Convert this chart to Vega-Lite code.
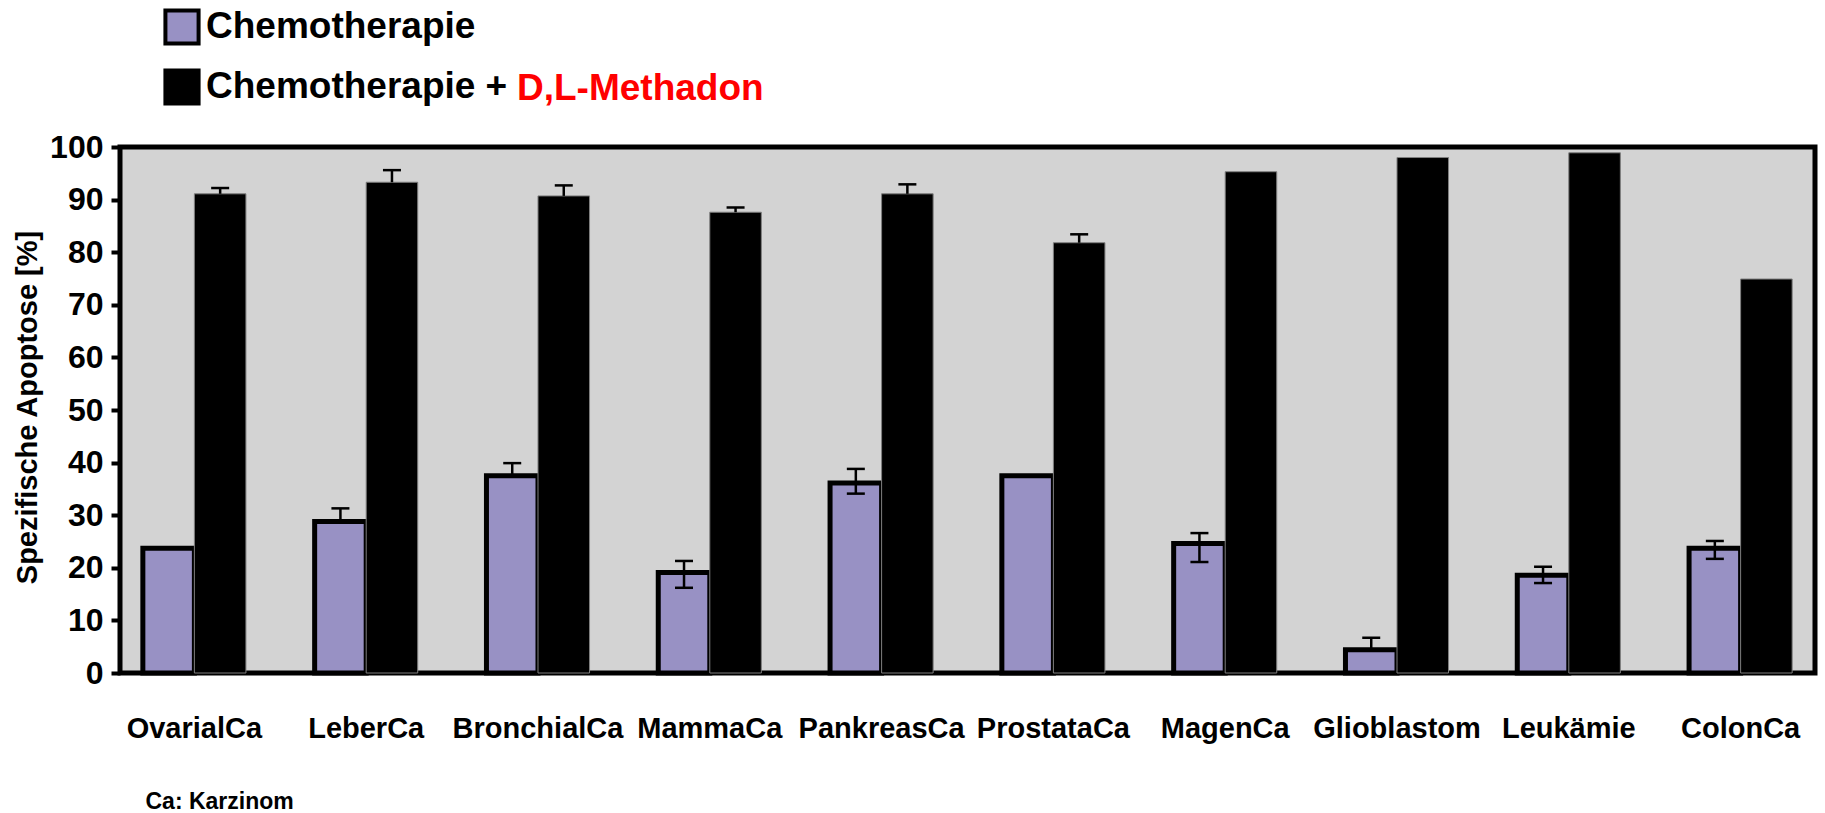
{
  "$schema": "https://vega.github.io/schema/vega-lite/v6.json",
  "width": 1695,
  "height": 526,
  "autosize": {"type": "none"},
  "padding": {"left": 120, "top": 147, "right": 10, "bottom": 140},
  "background": "white",
  "config": {
    "view": {"fill": "#d3d3d3", "stroke": "#000000", "strokeWidth": 5},
    "font": "Liberation Sans"
  },
  "data": {
    "values": [
      {"cat": "OvarialCa", "grp": "Chemotherapie", "v": 23.7, "lo": 23.7, "hi": 23.7},
      {"cat": "OvarialCa", "grp": "Chemotherapie + D,L-Methadon", "v": 91.1, "lo": 91.1, "hi": 92.2},
      {"cat": "LeberCa", "grp": "Chemotherapie", "v": 28.8, "lo": 28.8, "hi": 31.3},
      {"cat": "LeberCa", "grp": "Chemotherapie + D,L-Methadon", "v": 93.3, "lo": 93.3, "hi": 95.6},
      {"cat": "BronchialCa", "grp": "Chemotherapie", "v": 37.5, "lo": 37.5, "hi": 39.9},
      {"cat": "BronchialCa", "grp": "Chemotherapie + D,L-Methadon", "v": 90.7, "lo": 90.7, "hi": 92.7},
      {"cat": "MammaCa", "grp": "Chemotherapie", "v": 19.1, "lo": 16.2, "hi": 21.3},
      {"cat": "MammaCa", "grp": "Chemotherapie + D,L-Methadon", "v": 87.6, "lo": 87.6, "hi": 88.5},
      {"cat": "PankreasCa", "grp": "Chemotherapie", "v": 36.1, "lo": 34.1, "hi": 38.8},
      {"cat": "PankreasCa", "grp": "Chemotherapie + D,L-Methadon", "v": 91.1, "lo": 91.1, "hi": 92.9},
      {"cat": "ProstataCa", "grp": "Chemotherapie", "v": 37.5, "lo": 37.5, "hi": 37.5},
      {"cat": "ProstataCa", "grp": "Chemotherapie + D,L-Methadon", "v": 81.8, "lo": 81.8, "hi": 83.4},
      {"cat": "MagenCa", "grp": "Chemotherapie", "v": 24.6, "lo": 21.1, "hi": 26.6},
      {"cat": "MagenCa", "grp": "Chemotherapie + D,L-Methadon", "v": 95.3, "lo": 95.3, "hi": 95.3},
      {"cat": "Glioblastom", "grp": "Chemotherapie", "v": 4.4, "lo": 4.4, "hi": 6.7},
      {"cat": "Glioblastom", "grp": "Chemotherapie + D,L-Methadon", "v": 98.0, "lo": 98.0, "hi": 98.0},
      {"cat": "Leukämie", "grp": "Chemotherapie", "v": 18.6, "lo": 17.1, "hi": 20.2},
      {"cat": "Leukämie", "grp": "Chemotherapie + D,L-Methadon", "v": 98.9, "lo": 98.9, "hi": 98.9},
      {"cat": "ColonCa", "grp": "Chemotherapie", "v": 23.7, "lo": 21.7, "hi": 25.1},
      {"cat": "ColonCa", "grp": "Chemotherapie + D,L-Methadon", "v": 74.9, "lo": 74.9, "hi": 74.9}
    ]
  },
  "encoding": {
    "x": {
      "field": "cat",
      "type": "nominal",
      "sort": null,
      "scale": {"paddingInner": 0.4, "paddingOuter": 0.133},
      "axis": {
        "title": "Ca: Karzinom",
        "titleFontSize": 23,
        "titleFontWeight": "bold",
        "titleColor": "#000000",
        "titleAnchor": "start",
        "titleAlign": "left",
        "titleBaseline": "middle",
        "titleX": 25,
        "titleY": 128,
        "labelAngle": 0,
        "labelFontSize": 29,
        "labelFontWeight": "bold",
        "labelColor": "#000000",
        "labelBaseline": "middle",
        "labelPadding": 55,
        "ticks": false,
        "domain": false
      }
    },
    "xOffset": {
      "field": "grp",
      "type": "nominal",
      "sort": ["Chemotherapie", "Chemotherapie + D,L-Methadon"]
    }
  },
  "layer": [
    {
      "mark": {"type": "bar"},
      "encoding": {
        "y": {
          "field": "v",
          "type": "quantitative",
          "scale": {"domain": [0, 100], "nice": false},
          "axis": {
            "title": "Spezifische Apoptose [%]",
            "titleFontSize": 29,
            "titleFontWeight": "bold",
            "titleColor": "#000000",
            "titleAngle": -90,
            "titleAlign": "center",
            "titleBaseline": "middle",
            "titleX": -93,
            "titleY": 260,
            "values": [0, 10, 20, 30, 40, 50, 60, 70, 80, 90, 100],
            "labelFontSize": 32,
            "labelFontWeight": "bold",
            "labelColor": "#000000",
            "labelPadding": 8,
            "tickSize": 9,
            "tickWidth": 4,
            "tickColor": "#000000",
            "domain": false,
            "grid": false
          }
        },
        "color": {
          "field": "grp",
          "type": "nominal",
          "scale": {"domain": ["Chemotherapie", "Chemotherapie + D,L-Methadon"], "range": ["#9891c4", "#000000"]},
          "legend": {
            "orient": "none",
            "legendX": 43,
            "legendY": -139,
            "title": null,
            "padding": 0,
            "symbolType": "square",
            "symbolSize": 1100,
            "symbolStrokeColor": "#000000",
            "symbolStrokeWidth": 4,
            "labelFontSize": 37,
            "labelFontWeight": "bold",
            "labelColor": "#000000",
            "labelOffset": 5,
            "rowPadding": 10,
            "labelLimit": 800,
            "labelExpr": "datum.label == 'Chemotherapie' ? 'Chemotherapie' : 'Chemotherapie +'"
          }
        },
        "stroke": {
          "field": "grp",
          "type": "nominal",
          "scale": {"domain": ["Chemotherapie", "Chemotherapie + D,L-Methadon"], "range": ["#000000", "#7f7f7f"]},
          "legend": null
        },
        "strokeWidth": {
          "field": "grp",
          "type": "nominal",
          "scale": {"domain": ["Chemotherapie", "Chemotherapie + D,L-Methadon"], "range": [5, 1]},
          "legend": null
        }
      }
    },
    {
      "transform": [{"filter": "datum.hi > datum.lo"}],
      "mark": {"type": "rule", "color": "#000000", "strokeWidth": 2.5},
      "encoding": {
        "y": {"field": "lo", "type": "quantitative"},
        "y2": {"field": "hi"}
      }
    },
    {
      "transform": [{"filter": "datum.hi > datum.v"}],
      "mark": {"type": "tick", "color": "#000000", "size": 18, "thickness": 2.5, "opacity": 1},
      "encoding": {
        "y": {"field": "hi", "type": "quantitative"}
      }
    },
    {
      "transform": [{"filter": "datum.lo < datum.v"}],
      "mark": {"type": "tick", "color": "#000000", "size": 18, "thickness": 2.5, "opacity": 1},
      "encoding": {
        "y": {"field": "lo", "type": "quantitative"}
      }
    },
    {
      "mark": {"type": "point", "opacity": 0},
      "encoding": {
        "y": {"field": "v", "type": "quantitative"},
        "color": {
          "datum": "D,L-Methadon",
          "scale": {"range": ["#ff0000"]},
          "legend": {
            "orient": "none",
            "legendX": 360,
            "legendY": -77,
            "title": null,
            "padding": 0,
            "symbolSize": 1,
            "symbolOpacity": 0,
            "symbolStrokeWidth": 0,
            "labelOffset": 0,
            "labelFontSize": 37,
            "labelFontWeight": "bold",
            "labelColor": "#ff0000",
            "labelLimit": 800
          }
        }
      }
    }
  ],
  "resolve": {"scale": {"color": "independent"}, "legend": {"color": "independent"}}
}
